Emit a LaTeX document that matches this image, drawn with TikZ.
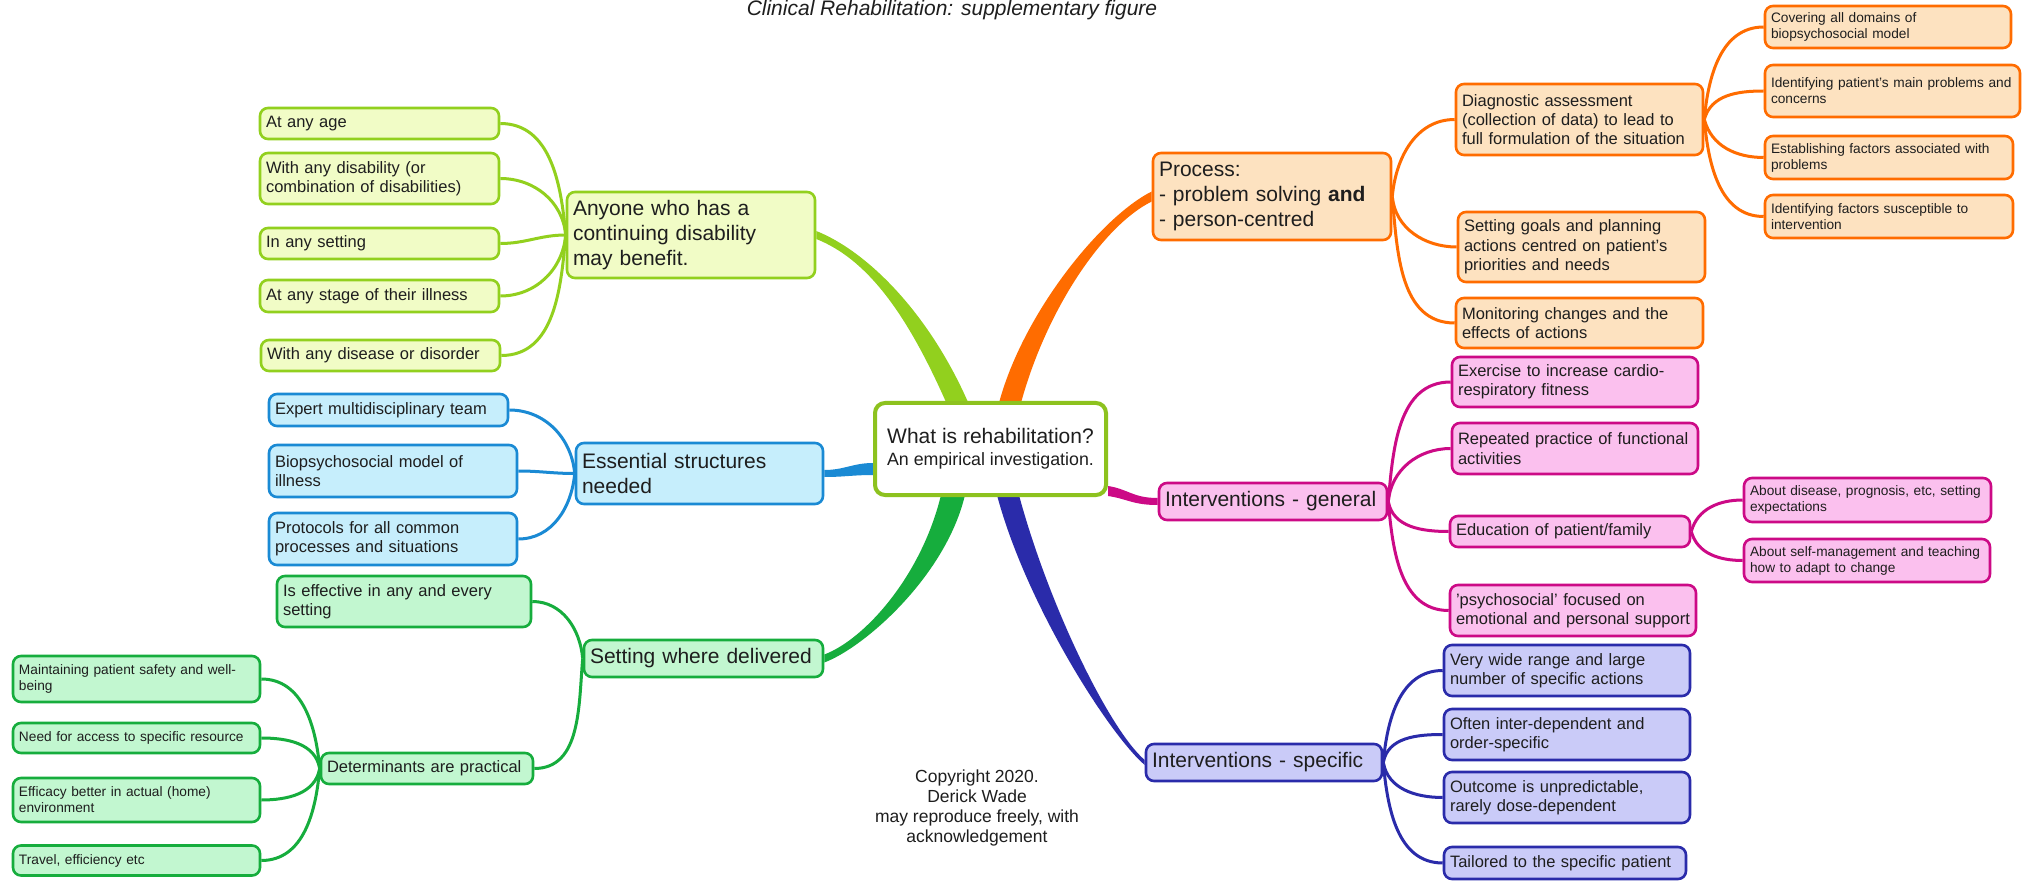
\documentclass[tikz,border=0pt]{standalone}
\usepackage{fontspec}
\setmainfont{Liberation Sans}
\usetikzlibrary{calc}
\pgfdeclarelayer{back}
\pgfdeclarelayer{bg}
\pgfsetlayers{back,bg,main}
\definecolor{LS}{HTML}{92D01E}
\definecolor{LF}{HTML}{F1FCC6}
\definecolor{BS}{HTML}{1A8AD4}
\definecolor{BF}{HTML}{C6EEFC}
\definecolor{GS}{HTML}{16AD3D}
\definecolor{GF}{HTML}{C2F7D0}
\definecolor{OS}{HTML}{FF6C00}
\definecolor{OF}{HTML}{FDE2C0}
\definecolor{PS}{HTML}{CC0A86}
\definecolor{PF}{HTML}{FBC0EE}
\definecolor{VS}{HTML}{2A2BAA}
\definecolor{VF}{HTML}{CACBF8}
\definecolor{CS}{HTML}{8DC21F}
\definecolor{TX}{HTML}{1E1E1E}
% tapered main branch: colour, start, half-width at start, ctrl1 (rel. start), end, half-width at end, ctrl2 (rel. end)
\newcommand\trunk[7]{\fill[#1] ($#2+#3$) .. controls ($#2+#3+#4$) and ($#5+#6+#7$) .. ($#5+#6$) -- ($#5-#6$) .. controls ($#5-#6+#7$) and ($#2-#3+#4$) .. ($#2-#3$) -- cycle;}
\newcommand\bx[6]{\node[#1, text width=#4pt, minimum height=#5pt] (#2) at (#3) {#6};}
\begin{document}
\begin{tikzpicture}[x=1pt,y=1pt,
  box/.style={draw, rounded corners=8pt, line width=2.6pt, inner xsep=6pt, inner ysep=0pt, align=left, text=TX},
  mf/.style={font=\fontsize{21}{25}\selectfont},
  sf/.style={font=\fontsize{16.5}{19.3}\selectfont},
  xf/.style={font=\fontsize{13.7}{16}\selectfont},
  Lb/.style={box, draw=LS, fill=LF},
  Bb/.style={box, draw=BS, fill=BF},
  Gb/.style={box, draw=GS, fill=GF},
  Ob/.style={box, draw=OS, fill=OF},
  Pb/.style={box, draw=PS, fill=PF},
  Vb/.style={box, draw=VS, fill=VF},
  lnk/.style={line width=3pt}]
\useasboundingbox (0,0) rectangle (2022,-882);
\begin{pgfonlayer}{back}
\fill[white] (0,0) rectangle (2022,-882);
\end{pgfonlayer}

% title and copyright
\node[font=\fontsize{21}{24}\selectfont\itshape, text=TX, anchor=base] (title) at (952,-15.5) {Clinical Rehabilitation: supplementary figure};
\node[font=\fontsize{17.5}{20}\selectfont, text=TX, align=center] (copy) at (977,-808) {Copyright 2020.\\Derick Wade\\may reproduce freely, with\\acknowledgement};

% centre
\node[draw=CS, line width=4pt, fill=white, rounded corners=10pt, minimum width=231pt, minimum height=92pt, align=center, text=TX, font=\fontsize{21}{22}\selectfont] (c) at (990.5,-449) {What is rehabilitation?\\{\fontsize{17.8}{22}\selectfont An empirical investigation.}};

% lime group
\bx{Lb,mf}{any}{691,-235}{236}{86}{Anyone who has a\\continuing disability\\may benefit.}
\bx{Lb,sf}{age}{379.5,-123.5}{227}{31}{At any age}
\bx{Lb,sf}{disab}{379.5,-178.5}{227}{51}{With any disability (or\\combination of disabilities)}
\bx{Lb,sf}{setting}{379.5,-243.5}{227}{31}{In any setting}
\bx{Lb,sf}{stage}{379.5,-296}{227}{32}{At any stage of their illness}
\bx{Lb,sf}{disease}{380.5,-355.5}{227}{31}{With any disease or disorder}

% blue group
\bx{Bb,mf}{ess}{699.5,-473.5}{235}{61}{Essential structures\\needed}
\bx{Bb,sf}{expert}{388.5,-410}{227}{32}{Expert multidisciplinary team}
\bx{Bb,sf}{bio}{393,-471}{236}{52}{Biopsychosocial model of\\illness}
\bx{Bb,sf}{prot}{393,-539}{236}{52}{Protocols for all common\\processes and situations}

% green group
\bx{Gb,mf}{set}{703.5,-658.5}{227}{37}{Setting where delivered}
\bx{Gb,sf}{eff}{404,-601.5}{242}{51}{Is effective in any and every\\setting}
\bx{Gb,sf}{det}{427,-768.5}{200}{31}{Determinants are practical}
\bx{Gb,xf}{maint}{136.5,-679}{235}{46}{Maintaining patient safety and well-\\being}
\bx{Gb,xf}{need}{136.5,-738}{235}{30}{Need for access to specific resource}
\bx{Gb,xf}{effic}{136.5,-800}{235}{44}{Efficacy better in actual (home)\\environment}
\bx{Gb,xf}{travel}{136.5,-860.5}{235}{30}{Travel, efficiency etc}

% orange group
\bx{Ob,mf}{proc}{1272,-196.5}{226}{87}{Process:\\- problem solving \textbf{and}\\- person-centred}
\bx{Ob,sf}{diag}{1579.5,-119.5}{235}{71}{Diagnostic assessment\\(collection of data) to lead to\\full formulation of the situation}
\bx{Ob,sf}{goals}{1581.5,-247}{235}{70}{Setting goals and planning\\actions centred on patient's\\priorities and needs}
\bx{Ob,sf}{monit}{1579.5,-323}{235}{50}{Monitoring changes and the\\effects of actions}
\bx{Ob,xf}{cover}{1888,-27}{234}{42}{Covering all domains of\\biopsychosocial model}
\bx{Ob,xf}{ident}{1892.5,-91}{243}{52}{Identifying patient's main problems and\\concerns}
\bx{Ob,xf}{estab}{1889,-157.5}{236}{43}{Establishing factors associated with\\problems}
\bx{Ob,xf}{suscep}{1889,-216.5}{236}{43}{Identifying factors susceptible to\\intervention}

% pink group
\bx{Pb,mf}{igen}{1273,-501.5}{216}{37}{Interventions - general}
\bx{Pb,sf}{exer}{1575,-382}{234}{50}{Exercise to increase cardio-\\respiratory fitness}
\bx{Pb,sf}{rep}{1575,-448.5}{234}{51}{Repeated practice of functional\\activities}
\bx{Pb,sf}{edu}{1570,-531.5}{228}{31}{Education of patient/family}
\bx{Pb,sf}{psych}{1573,-610.5}{234}{51}{'psychosocial' focused on\\emotional and personal support}
\bx{Pb,xf}{adis}{1867.5,-500}{235}{44}{About disease, prognosis, etc, setting\\expectations}
\bx{Pb,xf}{aself}{1867,-560.5}{234}{43}{About self-management and teaching\\how to adapt to change}

% violet group
\bx{Vb,mf}{ispec}{1264,-762.5}{224}{37}{Interventions - specific}
\bx{Vb,sf}{wide}{1567,-670.5}{234}{51}{Very wide range and large\\number of specific actions}
\bx{Vb,sf}{often}{1567,-734.5}{234}{51}{Often inter-dependent and\\order-specific}
\bx{Vb,sf}{outc}{1567,-797.5}{234}{51}{Outcome is unpredictable,\\rarely dose-dependent}
\bx{Vb,sf}{tail}{1565,-863}{230}{32}{Tailored to the specific patient}

% branch end points on the centre box
\coordinate (cL) at ($(c.north)+(-34,0)$);
\coordinate (cO) at ($(c.north)+(20,0)$);
\coordinate (cB) at ($(c.west)+(0,-20)$);
\coordinate (cG) at ($(c.south)+(-38,0)$);
\coordinate (cP) at ($(c.east)+(0,-42)$);
\coordinate (cV) at ($(c.south)+(18,0)$);

\begin{pgfonlayer}{bg}
\trunk{LS}{(any.east)}{(0,4)}{(50,-20)}{(cL)}{(11,0)}{(-40,90)}
\trunk{OS}{(proc.west)}{(0,5)}{(-50,-25)}{(cO)}{(-11,0)}{(25,90)}
\trunk{BS}{(ess.east)}{(0,3.5)}{(20,0)}{(cB)}{(0,6)}{(-20,0)}
\trunk{GS}{(set.east)}{(0,4)}{(40,15)}{(cG)}{(-12,0)}{(-20,-80)}
\trunk{PS}{(igen.west)}{(0,3.5)}{(-25,0)}{(cP)}{(0,5)}{(20,-3)}
\trunk{VS}{(ispec.west)}{(0,2.5)}{(-35,30)}{(cV)}{(11,0)}{(30,-110)}

\draw[lnk,LS] (any.west) to[out=95,in=0] (age.east);
\draw[lnk,LS] (any.west) to[out=95,in=0] (disab.east);
\draw[lnk,LS] (any.west) to[out=180,in=0] (setting.east);
\draw[lnk,LS] (any.west) to[out=-95,in=0] (stage.east);
\draw[lnk,LS] (any.west) to[out=-95,in=0] (disease.east);

\draw[lnk,BS] (ess.west) to[out=95,in=0] (expert.east);
\draw[lnk,BS] (ess.west) to[out=180,in=0] (bio.east);
\draw[lnk,BS] (ess.west) to[out=-95,in=0] (prot.east);

\draw[lnk,GS] (set.west) to[out=95,in=0] (eff.east);
\draw[lnk,GS] (set.west) to[out=-95,in=0] (det.east);
\draw[lnk,GS] (det.west) to[out=95,in=0] (maint.east);
\draw[lnk,GS] (det.west) to[out=100,in=0] (need.east);
\draw[lnk,GS] (det.west) to[out=-100,in=0] (effic.east);
\draw[lnk,GS] (det.west) to[out=-95,in=0] (travel.east);

\draw[lnk,OS] (proc.east) to[out=85,in=180] (diag.west);
\draw[lnk,OS] (proc.east) to[out=-85,in=180] (goals.west);
\draw[lnk,OS] (proc.east) to[out=-85,in=180] (monit.west);
\draw[lnk,OS] (diag.east) to[out=85,in=180] (cover.west);
\draw[lnk,OS] (diag.east) to[out=75,in=180] (ident.west);
\draw[lnk,OS] (diag.east) to[out=-75,in=180] (estab.west);
\draw[lnk,OS] (diag.east) to[out=-85,in=180] (suscep.west);

\draw[lnk,PS] (igen.east) to[out=85,in=180] (exer.west);
\draw[lnk,PS] (igen.east) to[out=85,in=180] (rep.west);
\draw[lnk,PS] (igen.east) to[out=-80,in=180] (edu.west);
\draw[lnk,PS] (igen.east) to[out=-85,in=180] (psych.west);
\draw[lnk,PS] (edu.east) to[out=75,in=180] (adis.west);
\draw[lnk,PS] (edu.east) to[out=-75,in=180] (aself.west);

\draw[lnk,VS] (ispec.east) to[out=85,in=180] (wide.west);
\draw[lnk,VS] (ispec.east) to[out=80,in=180] (often.west);
\draw[lnk,VS] (ispec.east) to[out=-80,in=180] (outc.west);
\draw[lnk,VS] (ispec.east) to[out=-85,in=180] (tail.west);
\end{pgfonlayer}
\end{tikzpicture}
\end{document}
